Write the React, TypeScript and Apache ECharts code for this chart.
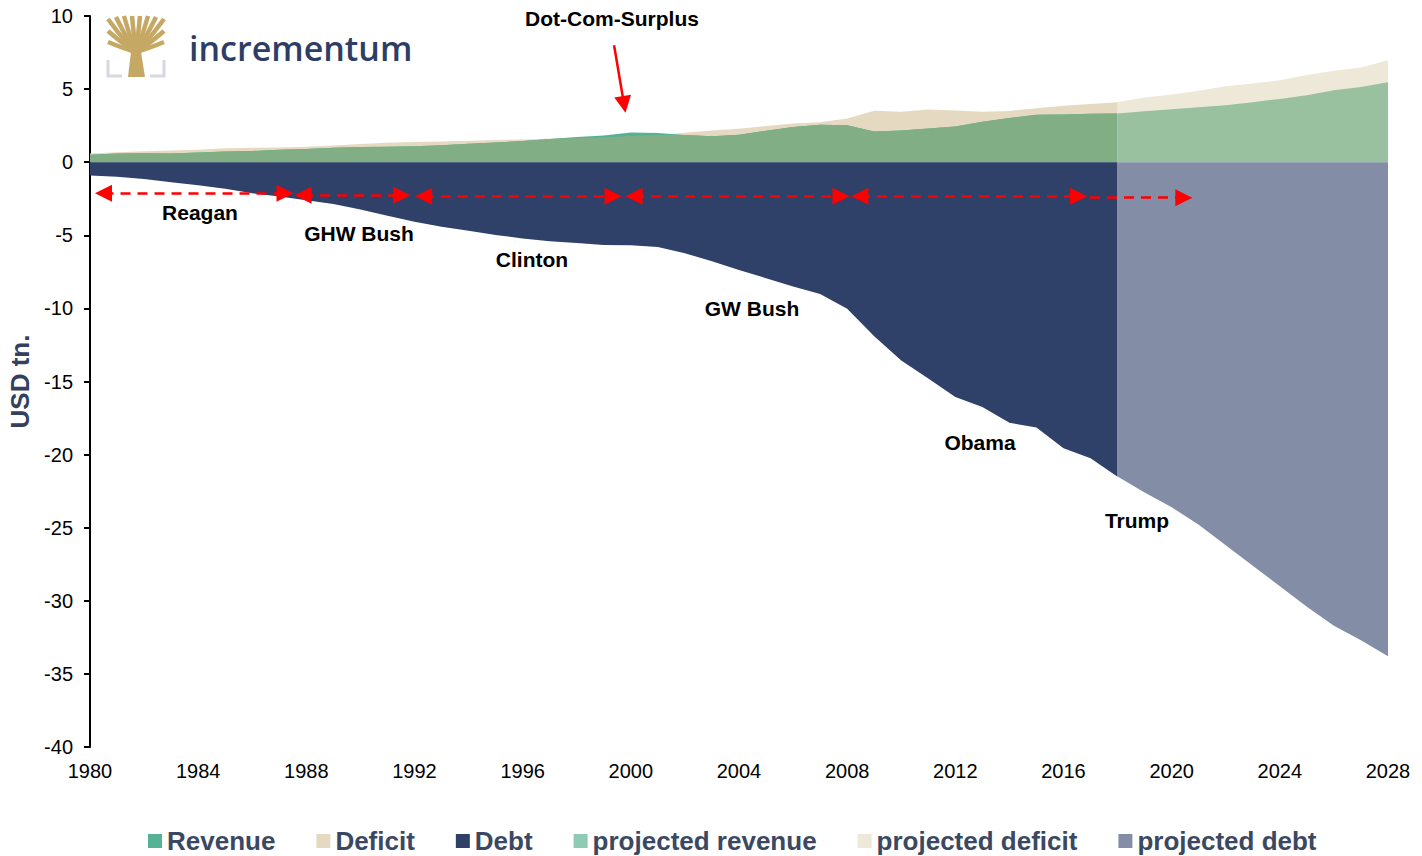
import React, { useEffect, useRef } from "react";
import * as echarts from "echarts";

// ---- Data (USD tn.) ----
const histYears = [
  1980, 1981, 1982, 1983, 1984, 1985, 1986, 1987, 1988, 1989,
  1990, 1991, 1992, 1993, 1994, 1995, 1996, 1997, 1998, 1999,
  2000, 2001, 2002, 2003, 2004, 2005, 2006, 2007, 2008, 2009,
  2010, 2011, 2012, 2013, 2014, 2015, 2016, 2017, 2018,
];
const revenue = [
  0.517, 0.599, 0.618, 0.601, 0.666, 0.734, 0.769, 0.854, 0.909, 0.991,
  1.032, 1.055, 1.091, 1.154, 1.259, 1.352, 1.453, 1.579, 1.722, 1.827,
  2.025, 1.991, 1.853, 1.782, 1.88, 2.154, 2.407, 2.568, 2.524, 2.105,
  2.163, 2.303, 2.45, 2.775, 3.021, 3.25, 3.268, 3.316, 3.329,
];
// revenue + deficit = total outlays
const spending = [
  0.591, 0.678, 0.746, 0.808, 0.852, 0.946, 0.99, 1.004, 1.065, 1.144,
  1.253, 1.324, 1.382, 1.41, 1.462, 1.516, 1.561, 1.601, 1.652, 1.702,
  1.789, 1.863, 2.011, 2.16, 2.293, 2.472, 2.655, 2.729, 2.983, 3.518,
  3.457, 3.603, 3.537, 3.455, 3.506, 3.692, 3.853, 3.982, 4.109,
];
const debt = [
  -0.908, -0.998, -1.142, -1.377, -1.572, -1.823, -2.125, -2.35, -2.602, -2.857,
  -3.233, -3.665, -4.065, -4.411, -4.693, -4.974, -5.225, -5.413, -5.526, -5.656,
  -5.674, -5.807, -6.228, -6.783, -7.379, -7.933, -8.507, -9.008, -10.025, -11.91,
  -13.562, -14.79, -16.066, -16.738, -17.824, -18.151, -19.573, -20.245, -21.516,
];

const projYears = [2018, 2019, 2020, 2021, 2022, 2023, 2024, 2025, 2026, 2027, 2028];
const projRevenue = [3.33, 3.49, 3.63, 3.76, 3.9, 4.1, 4.33, 4.58, 4.92, 5.15, 5.47];
const projSpending = [4.11, 4.42, 4.63, 4.88, 5.2, 5.38, 5.61, 5.97, 6.25, 6.47, 6.98];
const projDebt = [-21.5, -22.6, -23.6, -24.8, -26.2, -27.6, -29.0, -30.4, -31.7, -32.7, -33.8];

// presidency arrows
const terms = [
  { name: "Reagan", from: 1980.5, to: 1987.21, y: -2.12, both: true },
  { name: "GHW Bush", from: 1987.88, to: 1991.53, y: -2.26, both: true },
  { name: "Clinton", from: 1992.34, to: 1999.34, y: -2.33, both: true },
  { name: "GW Bush", from: 2000.12, to: 2007.77, y: -2.33, both: true },
  { name: "Obama", from: 2008.47, to: 2016.56, y: -2.33, both: true },
  { name: "Trump", from: 2016.98, to: 2020.45, y: -2.43, both: false },
];
const termLabels = [
  { text: "Reagan", x: 200, y: 212 },
  { text: "GHW Bush", x: 359, y: 233 },
  { text: "Clinton", x: 532, y: 259 },
  { text: "GW Bush", x: 752, y: 308 },
  { text: "Obama", x: 980, y: 442 },
  { text: "Trump", x: 1137, y: 520 },
];

const C = {
  revTeal: "#55B294",
  revGreen: "#82AE85",
  deficit: "#E5DAC1",
  debt: "#2F4169",
  pRevGreen: "#99C1A0",
  pRevLegend: "#8ECBB4",
  pDeficit: "#EEE8D8",
  pDebt: "#838DA6",
};

const SANS = "'Liberation Sans', Arial, Helvetica, sans-serif";

function pairs(xs: number[], ys: number[]) {
  return xs.map((x, i) => [x, ys[i]]);
}

function areaSeries(name: string, data: any[], color: string, extra: any = {}) {
  return {
    name,
    type: "line",
    data,
    symbol: "none",
    showSymbol: false,
    silent: true,
    lineStyle: { width: 0, color },
    itemStyle: { color },
    areaStyle: { color, opacity: 1 },
    emphasis: { disabled: true },
    ...extra,
  };
}

export default function App() {
  const ref = useRef<HTMLDivElement>(null);

  useEffect(() => {
    if (!ref.current) return;
    const chart = echarts.init(ref.current, undefined, { renderer: "svg" });

    const overlap = revenue.map((r, i) => Math.min(r, spending[i]));

    const markData: any[] = [];
    terms.forEach((t) => {
      markData.push([
        { coord: [t.from, t.y], symbol: t.both ? "triangle" : "none" },
        { coord: [t.to, t.y], symbol: "triangle" },
      ]);
    });

    const dotcom = [
      { coord: [1999.38, 8.0], symbol: "none" },
      { coord: [1999.75, 3.95], symbol: "triangle" },
    ];

    const treeGold = "#C6A865";
    const branches: any[] = [];
    const ends = [
      [108, 19], [116, 17], [124, 16], [132, 16], [140, 16], [148, 16], [156, 17], [164, 19],
      [108, 31], [164, 31], [108, 42], [164, 42],
    ];
    ends.forEach(([ex, ey]) => {
      branches.push({
        type: "bezierCurve",
        shape: { x1: 136, y1: 52, x2: ex, y2: ey, cpx1: (136 + ex) / 2 + (136 - ex) * 0.15, cpy1: ey + (52 - ey) * 0.75 },
        style: { stroke: treeGold, lineWidth: 4.5, fill: "none" },
        silent: true,
      });
    });

    const option: any = {
      animation: false,
      grid: { left: 90, right: 34, top: 16, bottom: 109, containLabel: false, outerBoundsMode: "none" },
      xAxis: {
        type: "value",
        min: 1980,
        max: 2028,
        interval: 4,
        axisLine: { show: false },
        axisTick: { show: false },
        splitLine: { show: false },
        axisLabel: {
          formatter: (v: number) => String(v),
          fontFamily: SANS,
          fontSize: 20,
          color: "#000",
          margin: 14,
        },
      },
      yAxis: {
        type: "value",
        min: -40,
        max: 10,
        interval: 5,
        axisLine: { show: true, onZero: false, lineStyle: { color: "#000", width: 2 } },
        axisTick: { show: true, length: 6, lineStyle: { color: "#000", width: 2 } },
        splitLine: { show: false },
        axisLabel: { fontFamily: SANS, fontSize: 20, color: "#000", margin: 17 },
        name: "USD tn.",
        nameLocation: "middle",
        nameGap: 55,
        nameTextStyle: { fontSize: 26, fontWeight: "bold", color: "#33415E", fontFamily: SANS },
      },
      legend: {
        top: 828,
        left: 148,
        padding: 0,
        icon: "rect",
        itemWidth: 14,
        itemHeight: 14,
        itemGap: 41,
        selectedMode: false,
        textStyle: { fontSize: 26, fontWeight: "bold", color: "#3B4862", fontFamily: SANS },
        data: [
          { name: "Revenue", itemStyle: { color: C.revTeal } },
          { name: "Deficit", itemStyle: { color: C.deficit } },
          { name: "Debt", itemStyle: { color: C.debt } },
          { name: "projected revenue", itemStyle: { color: C.pRevLegend } },
          { name: "projected deficit", itemStyle: { color: C.pDeficit } },
          { name: "projected debt", itemStyle: { color: C.pDebt } },
        ],
      },
      series: [
        areaSeries("Deficit", pairs(histYears, spending), C.deficit),
        areaSeries("Revenue", pairs(histYears, revenue), C.revTeal),
        areaSeries("Revenue (under outlays)", pairs(histYears, overlap), C.revGreen),
        areaSeries("Debt", pairs(histYears, debt), C.debt),
        areaSeries("projected deficit", pairs(projYears, projSpending), C.pDeficit),
        areaSeries("projected revenue", pairs(projYears, projRevenue), C.pRevGreen),
        areaSeries("projected debt", pairs(projYears, projDebt), C.pDebt, {
          markLine: {
            silent: true,
            animation: false,
            symbolSize: 17,
            label: { show: false },
            emphasis: { disabled: true },
            lineStyle: { color: "#FF0000", width: 2.5, type: [10, 7] },
            data: [
              ...markData,
              [
                { ...dotcom[0], lineStyle: { type: "solid", color: "#FF0000", width: 2.5 } },
                { ...dotcom[1] },
              ],
            ],
          },
        }),
      ],
      graphic: [
        ...termLabels.map((l) => ({
          type: "text",
          x: l.x,
          y: l.y,
          silent: true,
          style: {
            text: l.text,
            fill: "#000",
            font: `bold 21px ${SANS}`,
            textAlign: "center",
            textVerticalAlign: "middle",
          },
        })),
        {
          type: "text",
          x: 612,
          y: 18,
          silent: true,
          style: {
            text: "Dot-Com-Surplus",
            fill: "#000",
            font: `bold 21px ${SANS}`,
            textAlign: "center",
            textVerticalAlign: "middle",
          },
        },
        // logo
        {
          type: "text",
          x: 189,
          y: 48,
          silent: true,
          style: {
            text: "incrementum",
            fill: "#2D3E66",
            font: `600 34px 'Open Sans', 'Noto Sans', sans-serif`,
            textAlign: "left",
            textVerticalAlign: "middle",
          },
        },
        ...branches,
        {
          type: "polygon",
          silent: true,
          shape: { points: [[128, 77], [145, 77], [141, 52], [131, 52]] },
          style: { fill: treeGold },
        },
        {
          type: "polyline",
          silent: true,
          shape: { points: [[108, 60], [108, 76], [122, 76]] },
          style: { stroke: "#D9D9DD", lineWidth: 3, fill: "none" },
        },
        {
          type: "polyline",
          silent: true,
          shape: { points: [[164, 60], [164, 76], [150, 76]] },
          style: { stroke: "#D9D9DD", lineWidth: 3, fill: "none" },
        },
      ],
    };

    chart.setOption(option);
    return () => chart.dispose();
  }, []);

  return (
    <div
      ref={ref}
      style={{ position: "fixed", left: 0, top: 0, width: 1422, height: 856, background: "#fff" }}
    />
  );
}
